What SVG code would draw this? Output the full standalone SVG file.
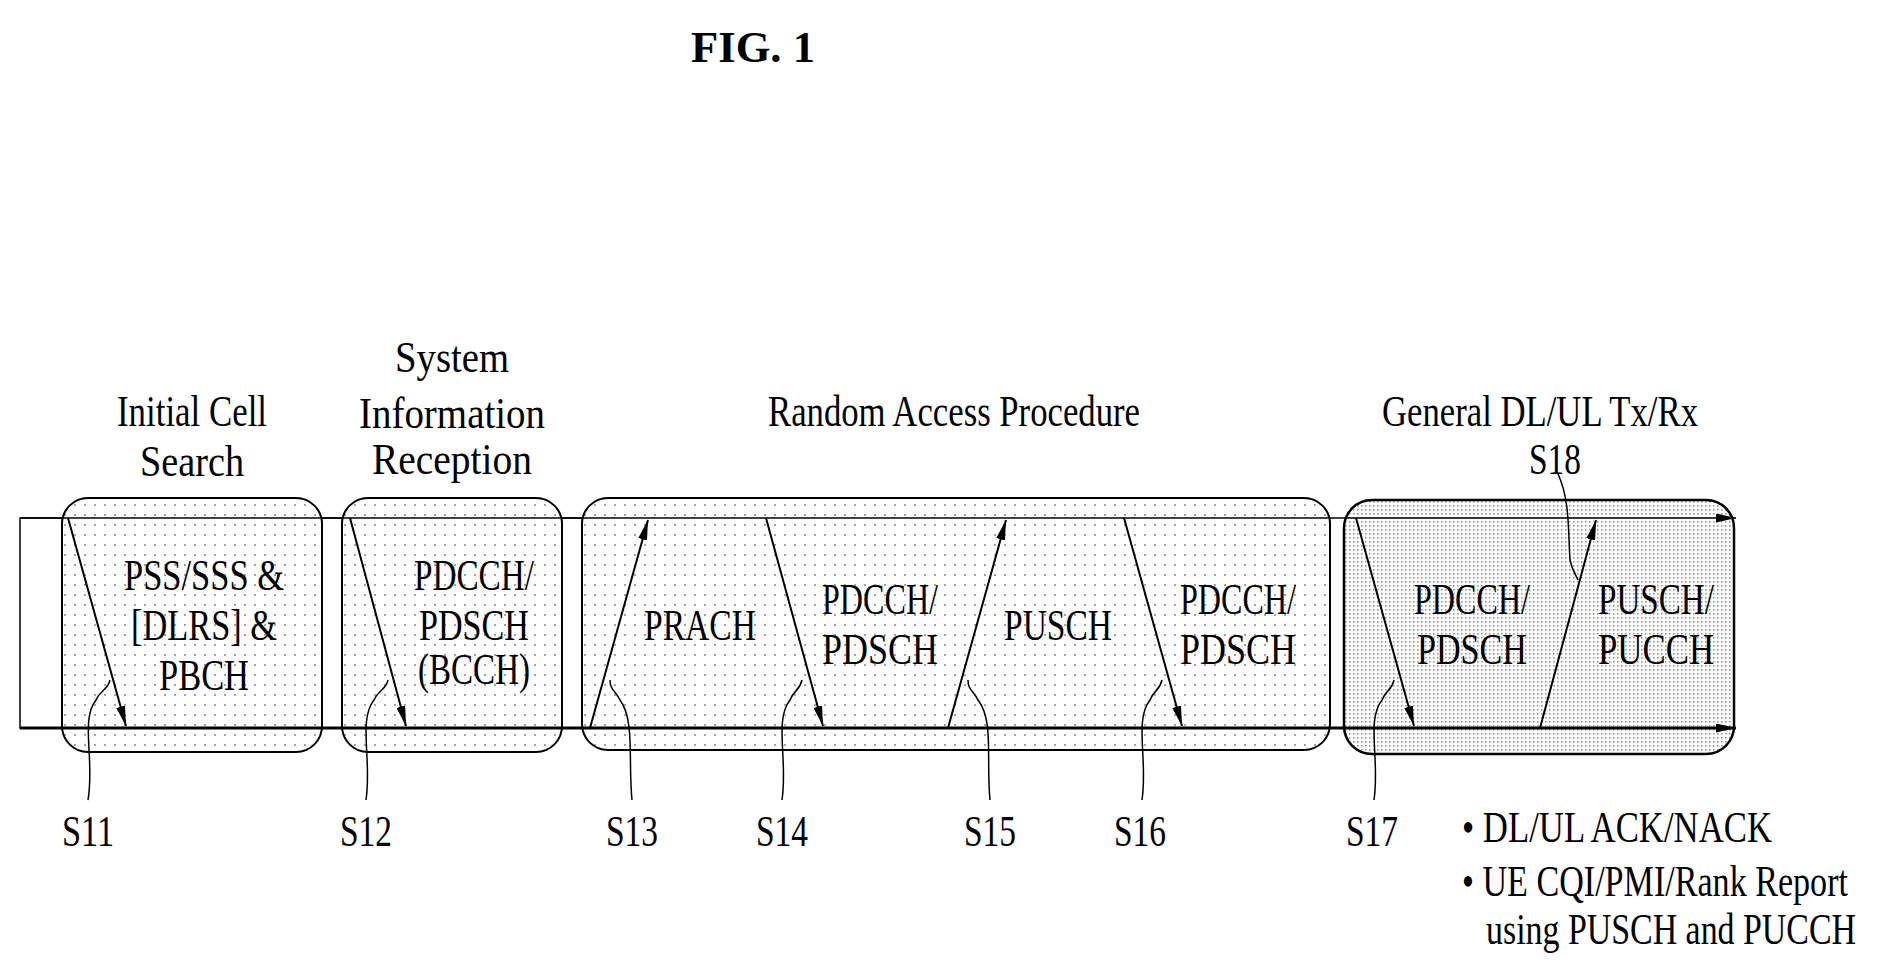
<svg xmlns="http://www.w3.org/2000/svg" width="1884" height="980" viewBox="0 0 1884 980">
<style>
text{font-family:"Liberation Serif","Times New Roman",serif;font-size:44px;fill:#000;text-anchor:middle}
.b{fill:url(#dots);stroke:#000;stroke-width:2}
.d{fill:url(#dense);stroke:#000;stroke-width:2.5}
.a{stroke:#000;stroke-width:2;fill:none;marker-end:url(#ah)}
.l{stroke:#000;stroke-width:1.5;fill:none}
.st{text-anchor:start}
</style>
<defs>
<pattern id="dots" width="10" height="10" patternUnits="userSpaceOnUse"><rect width="10" height="10" fill="#fff"/><circle cx="5" cy="5" r="0.9" fill="#777"/></pattern>
<pattern id="dense" width="4" height="4" patternUnits="userSpaceOnUse"><rect width="4" height="4" fill="#fff"/><rect x="1" y="1" width="1.6" height="1.6" fill="#999"/></pattern>
<marker id="ah" markerWidth="20" markerHeight="9" refX="20" refY="4.5" orient="auto" markerUnits="userSpaceOnUse"><path d="M0,0 L20,4.5 L0,9 Z" fill="#000"/></marker>
</defs>
<text x="753" y="62" font-size="44" font-weight="bold" textLength="124" lengthAdjust="spacingAndGlyphs">FIG. 1</text>
<g id="titles">
<text x="192" y="426" textLength="150" lengthAdjust="spacingAndGlyphs">Initial Cell</text>
<text x="192" y="476" textLength="104" lengthAdjust="spacingAndGlyphs">Search</text>
<text x="452" y="372" textLength="114" lengthAdjust="spacingAndGlyphs">System</text>
<text x="452" y="428" textLength="186" lengthAdjust="spacingAndGlyphs">Information</text>
<text x="452" y="474" textLength="160" lengthAdjust="spacingAndGlyphs">Reception</text>
<text x="954" y="426" textLength="372" lengthAdjust="spacingAndGlyphs">Random Access Procedure</text>
<text x="1540" y="426" textLength="316" lengthAdjust="spacingAndGlyphs">General DL/UL Tx/Rx</text>
</g>
<rect x="20" y="518" width="600" height="210" fill="#fff" stroke="#000" stroke-width="1.5"/>
<g id="box1"><rect class="b" x="62" y="498" width="260" height="254" rx="26"/>
<text x="204" y="590" textLength="160" lengthAdjust="spacingAndGlyphs">PSS/SSS &amp;</text>
<text x="204" y="640" textLength="146" lengthAdjust="spacingAndGlyphs">[DLRS] &amp;</text>
<text x="204" y="690" textLength="90" lengthAdjust="spacingAndGlyphs">PBCH</text></g>
<g id="box2"><rect class="b" x="342" y="498" width="220" height="254" rx="26"/>
<text x="474" y="590" textLength="120" lengthAdjust="spacingAndGlyphs">PDCCH/</text>
<text x="474" y="640" textLength="110" lengthAdjust="spacingAndGlyphs">PDSCH</text>
<text x="474" y="684" textLength="112" lengthAdjust="spacingAndGlyphs">(BCCH)</text></g>
<g id="box3"><rect class="b" x="582" y="498" width="748" height="252" rx="26"/>
<text x="700" y="640" textLength="112" lengthAdjust="spacingAndGlyphs">PRACH</text>
<text x="880" y="614" textLength="116" lengthAdjust="spacingAndGlyphs">PDCCH/</text>
<text x="880" y="664" textLength="116" lengthAdjust="spacingAndGlyphs">PDSCH</text>
<text x="1058" y="640" textLength="108" lengthAdjust="spacingAndGlyphs">PUSCH</text>
<text x="1238" y="614" textLength="116" lengthAdjust="spacingAndGlyphs">PDCCH/</text>
<text x="1238" y="664" textLength="116" lengthAdjust="spacingAndGlyphs">PDSCH</text></g>
<g id="box4"><rect class="d" x="1344" y="500" width="390" height="254" rx="28"/>
<text x="1472" y="614" textLength="116" lengthAdjust="spacingAndGlyphs">PDCCH/</text>
<text x="1472" y="664" textLength="110" lengthAdjust="spacingAndGlyphs">PDSCH</text>
<text x="1656" y="614" textLength="116" lengthAdjust="spacingAndGlyphs">PUSCH/</text>
<text x="1656" y="664" textLength="116" lengthAdjust="spacingAndGlyphs">PUCCH</text></g>
<g id="connectors">
<line x1="20" y1="518" x2="1736" y2="518" stroke="#000" stroke-width="1.5" marker-end="url(#ah)"/>
<line x1="20" y1="728" x2="1736" y2="728" stroke="#000" stroke-width="3" marker-end="url(#ah)"/>
<line class="a" x1="68" y1="518" x2="126" y2="726"/>
<line class="a" x1="350" y1="518" x2="406" y2="726"/>
<line class="a" x1="590" y1="728" x2="648" y2="520"/>
<line class="a" x1="766" y1="518" x2="823" y2="726"/>
<line class="a" x1="948" y1="728" x2="1006" y2="520"/>
<line class="a" x1="1124" y1="518" x2="1182" y2="726"/>
<line class="a" x1="1356" y1="518" x2="1414" y2="726"/>
<line class="a" x1="1540" y1="728" x2="1596" y2="520"/>
<path class="l" d="M88,800 C95,760 80,720 96,700 C100,690 108,690 110,680"/>
<path class="l" d="M366,800 C372,760 358,720 374,700 C378,690 386,690 388,680"/>
<path class="l" d="M632,800 C628,760 635,720 620,700 C615,690 610,690 610,680"/>
<path class="l" d="M782,800 C788,760 774,720 790,700 C794,690 800,690 802,680"/>
<path class="l" d="M990,800 C986,760 994,720 978,700 C973,690 968,690 968,680"/>
<path class="l" d="M1142,800 C1148,760 1134,720 1150,700 C1154,690 1160,690 1162,680"/>
<path class="l" d="M1374,800 C1380,760 1366,720 1382,700 C1386,690 1392,690 1394,680"/>
<path class="l" d="M1558,474 C1570,500 1568,530 1570,560 C1572,570 1576,575 1578,580"/>
</g>
<g id="labels">
<text x="88" y="846" textLength="52" lengthAdjust="spacingAndGlyphs">S11</text>
<text x="366" y="846" textLength="52" lengthAdjust="spacingAndGlyphs">S12</text>
<text x="632" y="846" textLength="52" lengthAdjust="spacingAndGlyphs">S13</text>
<text x="782" y="846" textLength="52" lengthAdjust="spacingAndGlyphs">S14</text>
<text x="990" y="846" textLength="52" lengthAdjust="spacingAndGlyphs">S15</text>
<text x="1140" y="846" textLength="52" lengthAdjust="spacingAndGlyphs">S16</text>
<text x="1372" y="846" textLength="52" lengthAdjust="spacingAndGlyphs">S17</text>
<text x="1555" y="474" textLength="52" lengthAdjust="spacingAndGlyphs">S18</text>
<text class="st" x="1462" y="842" textLength="310" lengthAdjust="spacingAndGlyphs">• DL/UL ACK/NACK</text>
<text class="st" x="1462" y="896" textLength="386" lengthAdjust="spacingAndGlyphs">• UE CQI/PMI/Rank Report</text>
<text class="st" x="1486" y="944" textLength="370" lengthAdjust="spacingAndGlyphs">using PUSCH and PUCCH</text>
</g>
</svg>
